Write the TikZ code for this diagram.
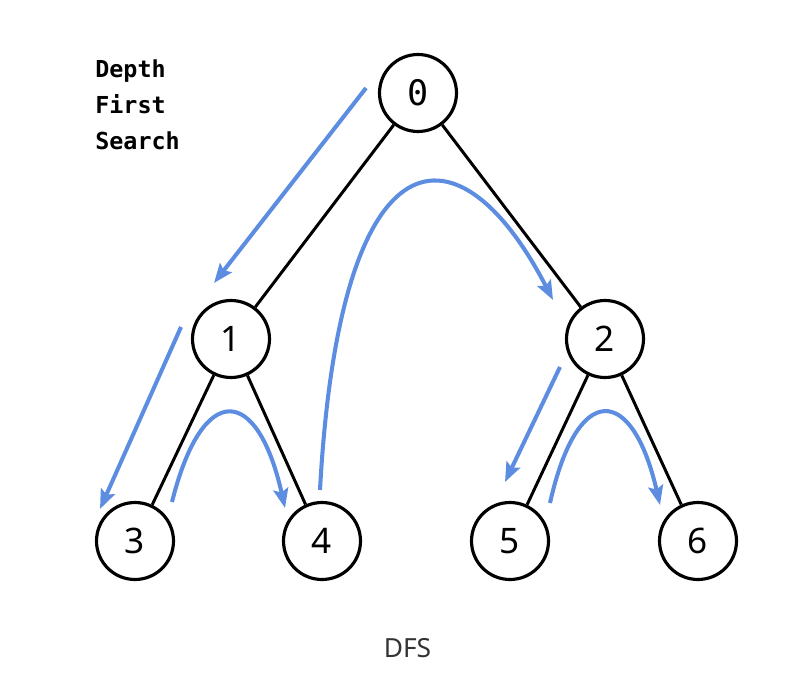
\documentclass[tikz,border=0pt]{standalone}
\usepackage{fontspec}
\setmainfont{Noto Sans}
\newfontfamily\codefont{DejaVu Sans Mono}
\usetikzlibrary{arrows.meta}
\definecolor{walkblue}{RGB}{92,141,224}
\definecolor{capgray}{RGB}{51,51,51}
\tikzset{
  vertex/.style={draw, circle, line width=1.8pt, minimum size=1.54cm, inner sep=0pt, font=\fontsize{20}{24}\selectfont},
  edge/.style={line width=1.7pt},
  walk/.style={walkblue, line width=2.3pt, -{Stealth[length=11pt,width=8.5pt,inset=2pt]}},
  label/.style={anchor=base west, inner sep=0pt, font=\codefont\bfseries\fontsize{13.3}{16}\selectfont}
}
\begin{document}
\begin{tikzpicture}
\useasboundingbox (0,0) rectangle (15.88,-13.6);
\node[label] (dtxt) at (1.9,-1.56) {Depth};
\node[label] (ftxt) at (1.9,-2.28) {First};
\node[label] (stxt) at (1.9,-3.00) {Search};
\node[vertex] (n0) at (8.36,-1.86) {\codefont 0};
\node[vertex] (n1) at (4.62,-6.78) {1};
\node[vertex] (n2) at (12.10,-6.78) {2};
\node[vertex] (n3) at (2.70,-10.82) {3};
\node[vertex] (n4) at (6.44,-10.82) {4};
\node[vertex] (n5) at (10.20,-10.82) {5};
\node[vertex] (n6) at (13.96,-10.82) {6};
\node[anchor=base, inner sep=0pt, text=capgray, font=\fontsize{15}{18}\selectfont] (cap) at (8.15,-13.14) {DFS};
\draw[edge] (n0) -- (n1);
\draw[edge] (n0) -- (n2);
\draw[edge] (n1) -- (n3);
\draw[edge] (n1) -- (n4);
\draw[edge] (n2) -- (n5);
\draw[edge] (n2) -- (n6);
\coordinate (w0a) at (7.32,-1.76);
\coordinate (w0b) at (4.28,-5.66);
\coordinate (w1a) at (3.62,-6.54);
\coordinate (w1b) at (2.00,-10.18);
\coordinate (w3a) at (3.44,-10.04);
\coordinate (w3b) at (5.70,-10.16);
\coordinate (w4a) at (6.40,-9.80);
\coordinate (w4b) at (11.06,-6.00);
\coordinate (w2a) at (11.20,-7.34);
\coordinate (w2b) at (10.10,-9.64);
\coordinate (w5a) at (11.00,-10.06);
\coordinate (w5b) at (13.20,-10.10);
\draw[walk] (w0a) -- (w0b);
\draw[walk] (w1a) -- (w1b);
\draw[walk] (w3a) .. controls (4.05,-7.6) and (5.15,-7.7) .. (w3b);
\draw[walk] (w4a) .. controls (6.8,-2.45) and (9.2,-2.4) .. (w4b);
\draw[walk] (w2a) -- (w2b);
\draw[walk] (w5a) .. controls (11.55,-7.6) and (12.65,-7.7) .. (w5b);
\end{tikzpicture}
\end{document}
